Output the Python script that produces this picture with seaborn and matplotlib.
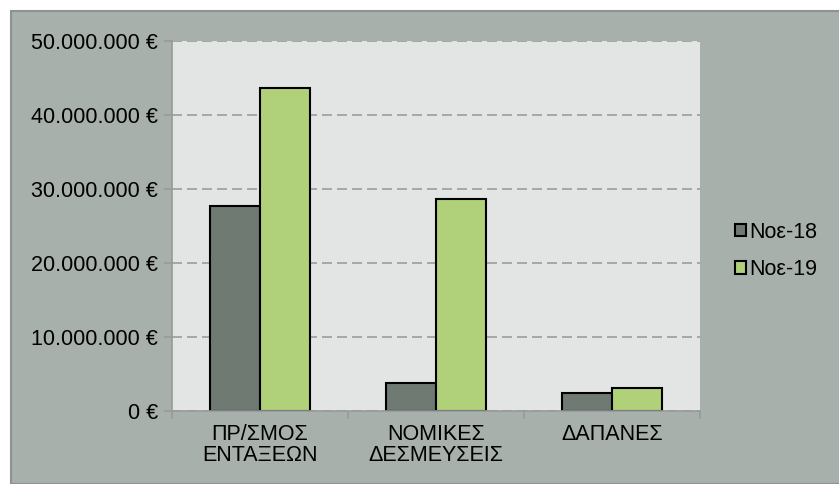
import matplotlib.pyplot as plt
import matplotlib.ticker as mticker
from matplotlib.patches import Rectangle
import seaborn as sns
import pandas as pd

categories = ["ΠΡ/ΣΜΟΣ\nΕΝΤΑΞΕΩΝ", "ΝΟΜΙΚΕΣ\nΔΕΣΜΕΥΣΕΙΣ", "ΔΑΠΑΝΕΣ"]
periods = ["Νοε-18", "Νοε-19"]
nov18 = [27_700_000, 3_830_000, 2_470_000]
nov19 = [43_650_000, 28_600_000, 3_100_000]
yticks = [0, 10_000_000, 20_000_000, 30_000_000, 40_000_000, 50_000_000]

df = pd.DataFrame({
    "category": categories * 2,
    "period": [periods[0]] * 3 + [periods[1]] * 3,
    "value": nov18 + nov19,
})

sns.set_style("white")
plt.rcParams["font.family"] = ["Liberation Sans", "DejaVu Sans"]
plt.rcParams["text.color"] = "black"
plt.rcParams["xtick.labelcolor"] = "black"
plt.rcParams["ytick.labelcolor"] = "black"

fig = plt.figure(figsize=(8.39, 4.84), dpi=100, facecolor="white")
# grey chart frame behind everything
fig.patches.append(Rectangle((11 / 839, 0), 1, 1 - 11 / 484, transform=fig.transFigure,
                             facecolor="#a8b0ab", edgecolor="#8d938f", linewidth=1.5, zorder=-10))

ax = fig.add_axes([172 / 839, 1 - 411 / 484, 528 / 839, 370 / 484])
ax.set_facecolor("#e3e5e4")

sns.barplot(data=df, x="category", y="value", hue="period", palette=["#6f7a73", "#b0d07a"],
            saturation=1, width=0.57, edgecolor="black", linewidth=1.5, ax=ax)

ax.set_ylim(0, 50_000_000)
ax.set_xlim(-0.5, 2.5)
ax.set_yticks(yticks)
ax.yaxis.set_major_formatter(mticker.FuncFormatter(lambda v, p: f"{v:,.0f}".replace(",", ".") + " €"))
ax.set_xlabel("")
ax.set_ylabel("")

ax.yaxis.grid(True, color="#9c9c9c", linestyle=(0, (6, 3)), linewidth=1.2)
ax.set_axisbelow(True)

for s in ["top", "right"]:
    ax.spines[s].set_visible(False)
for s in ["left", "bottom"]:
    ax.spines[s].set_color("#999999")
    ax.spines[s].set_linewidth(1.2)

ax.tick_params(axis="y", length=6, color="#999999", width=1.2, labelsize=15.5, pad=4, left=True,
               labelcolor="black")
ax.tick_params(axis="x", length=0, labelsize=15.5, pad=9, labelcolor="black")
for lbl in ax.get_xticklabels():
    lbl.set_linespacing(1.05)
ax.set_xticks([-0.5, 0.5, 1.5, 2.5], minor=True)
ax.tick_params(axis="x", which="minor", length=6, color="#999999", width=1.2, bottom=True)

leg = ax.legend(loc="center left", bbox_to_anchor=(724 / 839, 1 - 251 / 484), bbox_transform=fig.transFigure,
                frameon=False, fontsize=15.5, handlelength=0.5, handleheight=0.5, handletextpad=0.15,
                labelspacing=0.75, borderpad=0)
for t in leg.get_texts():
    t.set_color("black")

fig.savefig("out.png", dpi=100, facecolor="white")
